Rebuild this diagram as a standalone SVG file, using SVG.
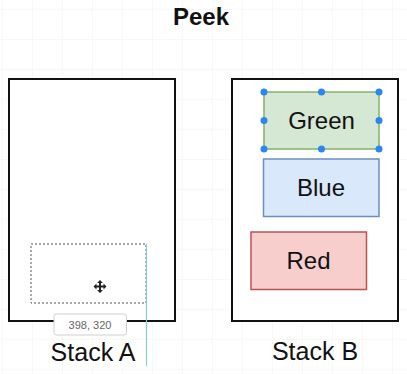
<svg xmlns="http://www.w3.org/2000/svg" width="407" height="374" viewBox="0 0 407 374">
<style>
.t{font-family:"Liberation Sans",Arial,sans-serif;fill:#111;text-anchor:middle}
.stack{fill:#fff;stroke:#111;stroke-width:2}
.h{fill:#2b86f0}
</style>
<defs>
<pattern id="grid" width="30" height="30" patternUnits="userSpaceOnUse" x="3" y="10">
<path d="M30 0V30M0 30H30" fill="none" stroke="#f1f1f1" stroke-width="1"/>
</pattern>
</defs>
<rect width="407" height="374" fill="#fff"/>
<rect width="407" height="374" fill="url(#grid)"/>
<text class="t" x="201" y="25" font-size="24" font-weight="bold">Peek</text>
<g id="stackA">
<rect class="stack" x="9" y="79" width="166" height="242"/>
<text class="t" x="93" y="361" font-size="25">Stack A</text>
</g>
<g id="stackB">
<rect class="stack" x="232" y="79" width="166" height="242"/>
<text class="t" x="315" y="360" font-size="25">Stack B</text>
</g>
<g id="green">
<rect x="264" y="92" width="115" height="57" fill="#d5e8d4" stroke="#82b366" stroke-width="1.5"/>
<text class="t" x="321.5" y="129" font-size="24">Green</text>
<g class="h">
<circle cx="264" cy="92" r="3.5"/><circle cx="321.5" cy="92" r="3.5"/><circle cx="379" cy="92" r="3.5"/>
<circle cx="264" cy="120.5" r="3.5"/><circle cx="379" cy="120.5" r="3.5"/>
<circle cx="264" cy="149" r="3.5"/><circle cx="321.5" cy="149" r="3.5"/><circle cx="379" cy="149" r="3.5"/>
</g>
</g>
<g id="blue">
<rect x="263.5" y="159" width="115.5" height="57.5" fill="#dae8fc" stroke="#6c8ebf" stroke-width="1.5"/>
<text class="t" x="321" y="196" font-size="24">Blue</text>
</g>
<g id="red">
<rect x="251" y="232" width="115.5" height="57.5" fill="#f8cecc" stroke="#b85450" stroke-width="1.5"/>
<text class="t" x="308.5" y="269" font-size="24">Red</text>
</g>
<g id="selection">
<rect x="31" y="244" width="115" height="59" fill="none" stroke="#555" stroke-width="1" stroke-dasharray="2 2"/>
<line x1="146.5" y1="244" x2="146.5" y2="366" stroke="#86cbd6" stroke-width="1.2"/>
<path d="M100 280l-3 3h2v2.5h-2.5v-2l-3 3 3 3v-2h2.5v2.5h-2l3 3 3-3h-2v-2.5h2.5v2l3-3-3-3v2h-2.5v-2.5h2z" fill="#222"/>
<rect x="54" y="314" width="72.5" height="21" rx="2.5" fill="#fff" stroke="#cfcfcf" stroke-width="1"/>
<text class="t" x="90" y="328.5" font-size="11" style="fill:#666">398, 320</text>
</g>
<g id="connectors"/>
</svg>
